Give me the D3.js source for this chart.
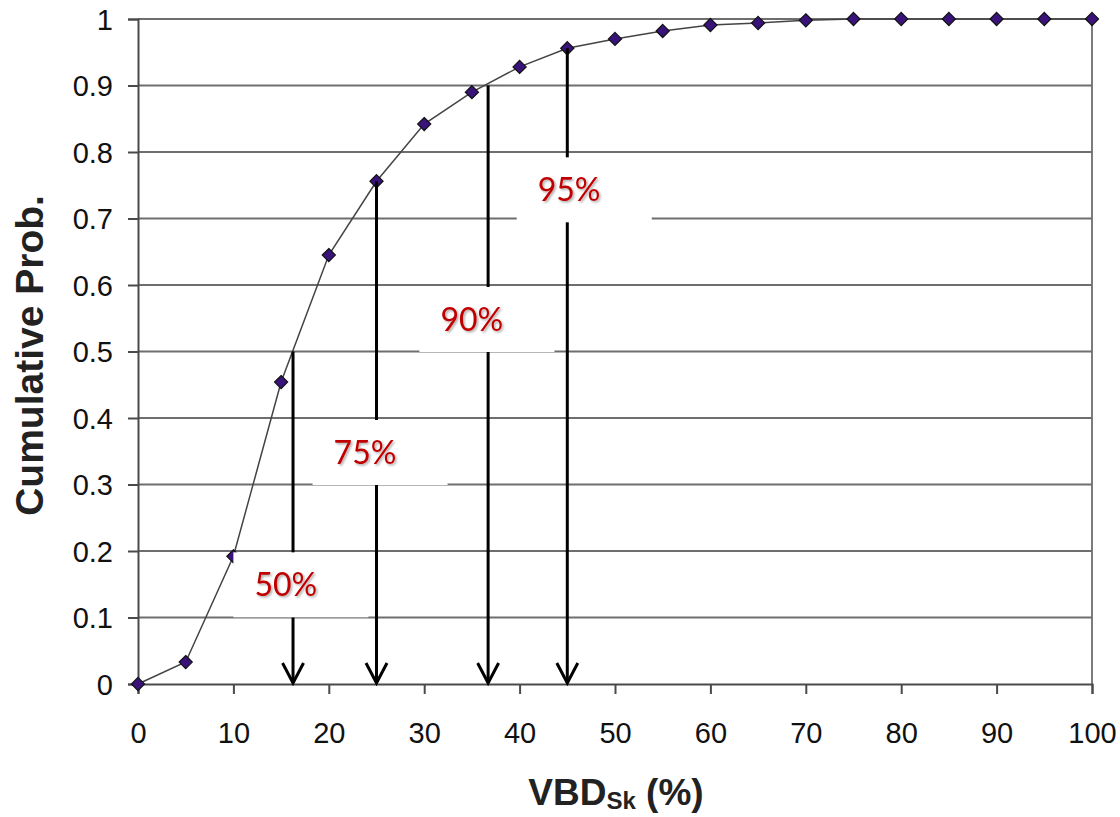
<!DOCTYPE html>
<html>
<head>
<meta charset="utf-8">
<script src="https://cdn.jsdelivr.net/npm/d3@7"></script>
<style>
  html, body { margin: 0; padding: 0; background: #fff; }
  svg { display: block; }
</style>
</head>
<body>
<svg id="chart" width="1120" height="817"></svg>
<script>
// VBD_Sk values (%) and their cumulative probabilities
const vbd = [0, 5, 10, 15, 20, 25, 30, 35, 40, 45, 50, 55, 60, 65, 70, 75, 80, 85, 90, 95, 100];
const cumProb = [0, 0.033, 0.192, 0.454, 0.645, 0.756, 0.842, 0.890, 0.928, 0.956, 0.970, 0.982, 0.991, 0.994, 0.998, 1, 1, 1, 1, 1, 1];

// Percentile markers: label, VBD value, probability at that point
const pctLabels = ["50%", "75%", "90%", "95%"];
const pctVbd = [16.25, 25, 36.7, 45];
const pctProb = [0.5, 0.756, 0.9, 0.956];
// Label boxes anchored at their top-left corner, in data units
const boxVbd = [10.0, 18.3, 29.5, 39.7];
const boxProb = [0.198, 0.397, 0.597, 0.792];

const xTicks = d3.range(0, 101, 10);
const yTicks = d3.range(0, 11).map(i => i / 10);

const svg = d3.select("#chart");
const x = d3.scaleLinear().domain([0, 100]).range([138, 1092]);
const y = d3.scaleLinear().domain([0, 1]).range([684, 19]);

// soft shadow for the percentile labels
const defs = svg.append("defs");
const f = defs.append("filter").attr("id", "shadow").attr("x", "-20%").attr("y", "-20%").attr("width", "140%").attr("height", "140%");
f.append("feDropShadow").attr("dx", 1.5).attr("dy", 1.5).attr("stdDeviation", 1)
  .attr("flood-color", "#000").attr("flood-opacity", 0.35);

// horizontal gridlines
svg.append("g").selectAll("line").data(yTicks.filter(d => d > 0)).join("line")
  .attr("x1", x(0)).attr("x2", x(100))
  .attr("y1", d => y(d)).attr("y2", d => y(d))
  .attr("stroke", "#6e6e6e").attr("stroke-width", 1.8);

// right border
svg.append("line").attr("x1", x(100)).attr("x2", x(100)).attr("y1", y(1)).attr("y2", y(0))
  .attr("stroke", "#6e6e6e").attr("stroke-width", 1.8);

// axes
const xAxis = svg.append("g").attr("transform", `translate(0,${y(0)})`)
  .call(d3.axisBottom(x).tickValues(xTicks).tickSize(10).tickPadding(28).tickFormat(d3.format("d")));
const yAxis = svg.append("g").attr("transform", `translate(${x(0)},0)`)
  .call(d3.axisLeft(y).tickValues(yTicks).tickSize(10).tickPadding(15).tickFormat(d => d === 0 || d === 1 ? String(d) : d.toFixed(1)));
[xAxis, yAxis].forEach(g => {
  g.select(".domain").attr("stroke", "#4a4a4a").attr("stroke-width", 2);
  g.selectAll(".tick line").attr("stroke", "#4a4a4a").attr("stroke-width", 2);
  g.selectAll(".tick text").attr("fill", "#111").attr("font-family", "'Liberation Sans', Arial, sans-serif").attr("font-size", 29);
});
yAxis.selectAll(".tick text").attr("dy", "0.35em");
xAxis.selectAll(".tick text").attr("dy", "0.71em");

// cumulative curve
svg.append("path")
  .datum(vbd.map((v, i) => [v, cumProb[i]]))
  .attr("fill", "none").attr("stroke", "#444").attr("stroke-width", 1.5)
  .attr("d", d3.line().x(d => x(d[0])).y(d => y(d[1])));

// diamond markers
const diamond = d3.symbol().type(d3.symbolDiamond2).size(110);
svg.append("g").selectAll("path").data(vbd.map((v, i) => [v, cumProb[i]])).join("path")
  .attr("d", diamond)
  .attr("transform", d => `translate(${x(d[0])},${y(d[1])})`)
  .attr("fill", "#3a137a").attr("stroke", "#111").attr("stroke-width", 1.2);

// percentile arrows down to the x-axis
const arrows = svg.append("g").attr("stroke", "#000").attr("stroke-width", 3).attr("fill", "none");
pctVbd.forEach((v, i) => {
  const px = x(v);
  arrows.append("line").attr("x1", px).attr("x2", px).attr("y1", y(pctProb[i])).attr("y2", y(0) - 1);
  arrows.append("path").attr("d", `M${px - 10.5},${y(0) - 21} L${px},${y(0) - 1} L${px + 10.5},${y(0) - 21}`)
    .attr("stroke-linejoin", "miter");
});

// label boxes and texts
const boxes = svg.append("g");
pctLabels.forEach((lab, i) => {
  const bx = x(boxVbd[i]), by = y(boxProb[i]);
  boxes.append("rect").attr("x", bx).attr("y", by).attr("width", 135).attr("height", 65).attr("fill", "#fff");
  boxes.append("text").attr("x", bx + 21).attr("y", by + 44)
    .attr("font-family", "Lato, 'Open Sans', sans-serif").attr("font-size", 32)
    .attr("fill", "#c00000").attr("filter", "url(#shadow)").text(lab);
});

// axis titles
svg.append("text")
  .attr("transform", `translate(43,${(y(0) + y(1)) / 2 + 4}) rotate(-90)`)
  .attr("text-anchor", "middle")
  .attr("font-family", "'Liberation Sans', Arial, sans-serif").attr("font-weight", "bold").attr("font-size", 39)
  .attr("fill", "#222").text("Cumulative Prob.");

const xt = svg.append("text")
  .attr("x", (x(0) + x(100)) / 2 + 1).attr("y", 805)
  .attr("text-anchor", "middle")
  .attr("font-family", "'Liberation Sans', Arial, sans-serif").attr("font-weight", "bold").attr("font-size", 37)
  .attr("fill", "#222");
xt.append("tspan").text("VBD");
xt.append("tspan").attr("font-size", 24).attr("dy", 4).text("Sk");
xt.append("tspan").attr("dy", -4).text(" (%)");
</script>
</body>
</html>
